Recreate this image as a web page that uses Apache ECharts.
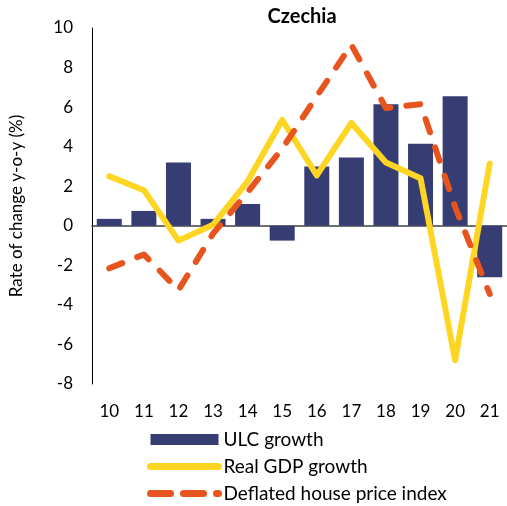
<!DOCTYPE html>
<html>
<head>
<meta charset="utf-8">
<script src="https://cdn.jsdelivr.net/npm/echarts@6/dist/echarts.min.js"></script>
<style>
  html, body { margin: 0; padding: 0; background: #fff; }
  #chart { width: 507px; height: 506px; }
</style>
</head>
<body>
<div id="chart"></div>
<script>
// years 2010..2021
const years = ['10', '11', '12', '13', '14', '15', '16', '17', '18', '19', '20', '21']
const ulcGrowth = [0.35, 0.75, 3.2, 0.35, 1.1, -0.75, 3.0, 3.45, 6.15, 4.15, 6.55, -2.6]
const realGdp = [2.5, 1.8, -0.75, 0.05, 2.25, 5.35, 2.55, 5.2, 3.2, 2.4, -6.8, 3.15]
const housePrice = [-2.15, -1.45, -3.25, -0.4, 1.7, 3.9, 6.55, 9.15, 5.95, 6.15, 0.95, -3.45]

const font = 'Lato'
const chart = echarts.init(document.getElementById('chart'))
chart.setOption({
  animation: false,
  textStyle: { fontFamily: font },
  title: {
    text: 'Czechia',
    left: 297,
    textAlign: 'center',
    top: 2,
    textStyle: { fontFamily: font, fontSize: 20, fontWeight: 'bold', color: '#000' }
  },
  legend: {
    orient: 'vertical',
    left: 147,
    top: 430,
    padding: 0,
    itemWidth: 68,
    itemHeight: 11,
    itemGap: 8,
    textStyle: { fontFamily: font, fontSize: 19, color: '#000' },
    data: [
      { name: 'ULC growth', icon: 'rect' },
      {
        name: 'Real GDP growth',
        itemStyle: { opacity: 0 },
        lineStyle: { width: 7, cap: 'round' }
      },
      {
        name: 'Deflated house price index',
        itemStyle: { opacity: 0 },
        lineStyle: { width: 7, type: [20, 13], cap: 'round' }
      }
    ]
  },
  grid: { left: 87, right: 0, top: 28, bottom: 122 },
  xAxis: {
    type: 'category',
    data: years,
    axisTick: { show: false },
    axisLine: { onZero: true, lineStyle: { color: '#404040', width: 1.5 } },
    axisLabel: { color: '#000', fontSize: 17, margin: 19 }
  },
  yAxis: {
    type: 'value',
    min: -8,
    max: 10,
    interval: 2,
    name: 'Rate of change y-o-y (%)',
    nameLocation: 'middle',
    nameGap: 67,
    nameTextStyle: { fontFamily: font, fontSize: 17, color: '#000' },
    axisLine: { show: true, lineStyle: { color: '#000', width: 1 } },
    axisTick: { show: false },
    splitLine: { show: false },
    axisLabel: { color: '#000', fontSize: 17, margin: 19 }
  },
  series: [
    {
      name: 'ULC growth',
      type: 'bar',
      barWidth: 25,
      data: ulcGrowth,
      itemStyle: { color: '#363d72' },
      z: 1
    },
    {
      name: 'Real GDP growth',
      type: 'line',
      data: realGdp,
      symbol: 'none',
      lineStyle: { color: '#ffd524', width: 6, cap: 'round', join: 'round' },
      itemStyle: { color: '#ffd524' },
      z: 2
    },
    {
      name: 'Deflated house price index',
      type: 'line',
      data: housePrice,
      symbol: 'none',
      lineStyle: { color: '#e8541e', width: 6, type: [14, 16], cap: 'round', join: 'round' },
      itemStyle: { color: '#e8541e' },
      z: 3
    }
  ]
})
</script>
</body>
</html>
